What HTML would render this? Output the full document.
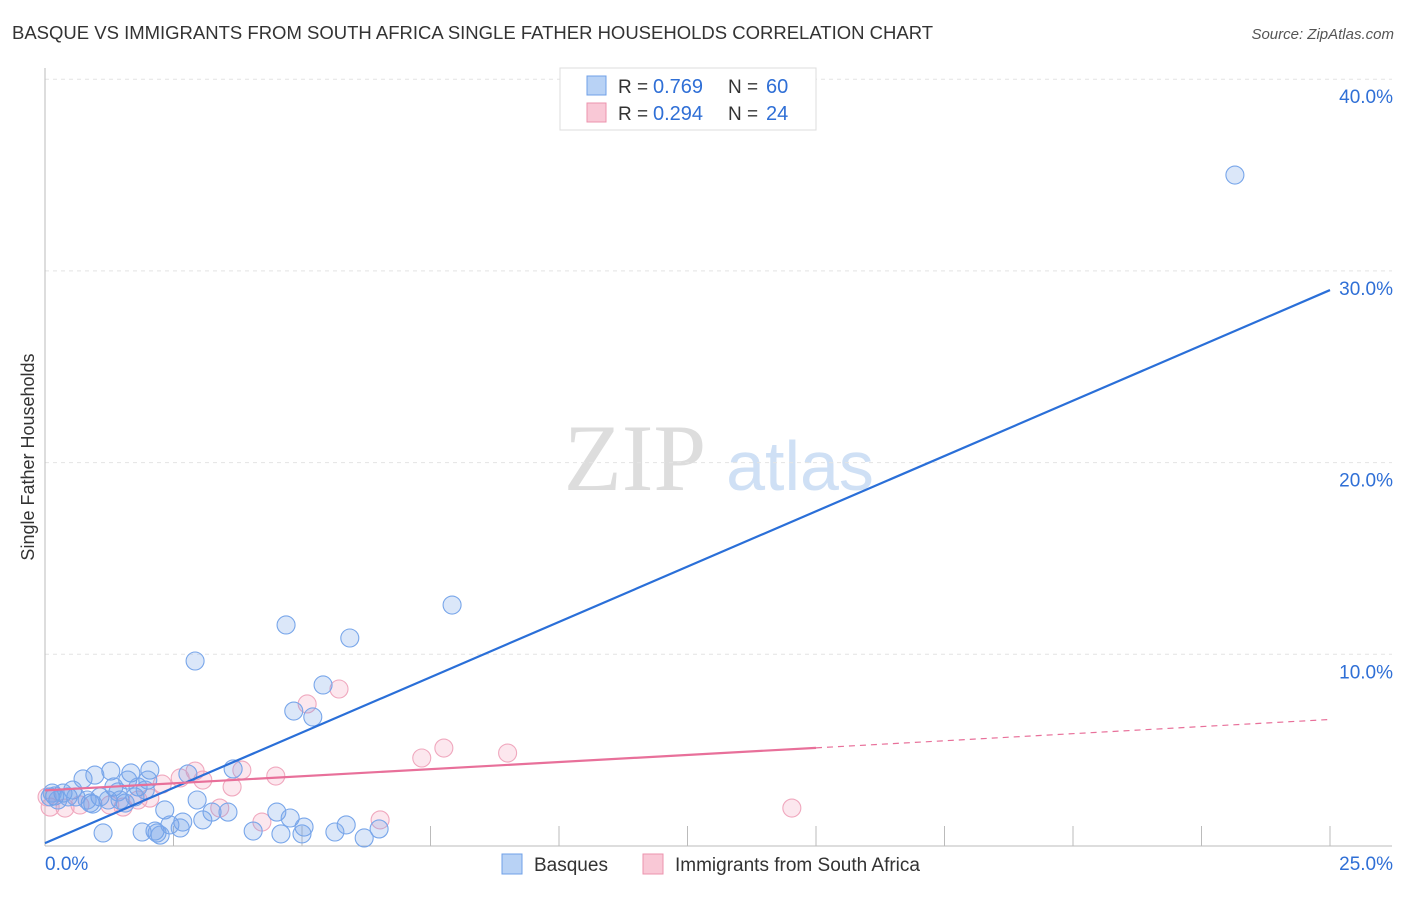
<!DOCTYPE html>
<html><head><meta charset="utf-8"><style>
body{margin:0;background:#fff;font-family:"Liberation Sans",sans-serif;}
</style></head><body>
<svg width="1406" height="892" xmlns="http://www.w3.org/2000/svg" style="font-family:'Liberation Sans',sans-serif">
<text x="12" y="39" font-size="18.5" fill="#333">BASQUE VS IMMIGRANTS FROM SOUTH AFRICA SINGLE FATHER HOUSEHOLDS CORRELATION CHART</text>
<text x="1394" y="39" font-size="15" fill="#555" font-style="italic" text-anchor="end">Source: ZipAtlas.com</text>
<text x="635" y="490" font-size="95" fill="#ddd" text-anchor="middle" font-family="Liberation Serif">ZIP</text>
<text x="800" y="490" font-size="70" fill="#cfe0f5" text-anchor="middle">atlas</text>
<g id="grid"></g><g id="pts"></g><g id="lines"></g>
<text transform="translate(34,457) rotate(-90)" font-size="18" fill="#333" text-anchor="middle">Single Father Households</text>
<g>
<rect x="560" y="68" width="256" height="62" fill="#fff" stroke="#ddd"/>
<rect x="587" y="76" width="19" height="19" fill="#b8d2f5" stroke="#6fa0e8"/>
<rect x="587" y="103" width="19" height="19" fill="#f9c8d6" stroke="#ec93ae"/>
<text x="618" y="93" font-size="19" fill="#333">R =</text>
<text x="653" y="93" font-size="20" fill="#2f6fd6">0.769</text>
<text x="728" y="93" font-size="19" fill="#333">N =</text>
<text x="766" y="93" font-size="20" fill="#2f6fd6">60</text>
<text x="618" y="120" font-size="19" fill="#333">R =</text>
<text x="653" y="120" font-size="20" fill="#2f6fd6">0.294</text>
<text x="728" y="120" font-size="19" fill="#333">N =</text>
<text x="766" y="120" font-size="20" fill="#2f6fd6">24</text>
</g>
<g>
<rect x="502" y="854" width="20" height="20" fill="#b8d2f5" stroke="#6fa0e8"/>
<text x="534" y="871" font-size="19" fill="#333">Basques</text>
<rect x="643" y="854" width="20" height="20" fill="#f9c8d6" stroke="#ec93ae"/>
<text x="675" y="871" font-size="19" fill="#333">Immigrants from South Africa</text>
</g>
</svg>
<script>
const xTicks=[0,2.5,5,7.5,10,12.5,15,17.5,20,22.5,25];
const yTicks=[10,20,30,40];
const yTickLabels=["10.0%","20.0%","30.0%","40.0%"];
const basquesX=[23.15,7.92,4.69,5.93,2.92,5.41,4.84,5.21,3.66,2.78,2.04,1.67,1.28,0.97,0.74,1.61,2.0,1.81,1.34,0.54,0.35,0.19,0.1,0.45,1.07,1.46,1.75,0.88,1.23,2.96,2.33,3.25,3.56,4.51,4.77,3.07,2.68,2.43,2.63,5.04,5.86,2.14,2.18,1.89,2.24,1.13,4.05,4.59,5.0,5.64,6.5,6.21,0.25,0.6,0.93,1.56,1.95,1.42,0.82,0.14];
const basquesY=[35.0,12.57,11.53,10.85,9.65,8.4,7.04,6.73,4.02,3.76,3.96,3.81,3.91,3.7,3.5,3.44,3.44,3.08,3.08,2.92,2.76,2.61,2.56,2.56,2.56,2.4,2.56,2.24,2.4,2.4,1.88,1.77,1.77,1.77,1.46,1.36,1.25,1.1,0.94,0.99,1.1,0.78,0.68,0.73,0.57,0.68,0.78,0.63,0.63,0.73,0.89,0.42,2.4,2.56,2.19,2.24,2.92,2.82,2.4,2.76];
const immX=[5.72,5.1,7.76,7.33,9.0,2.92,3.83,4.49,2.63,3.07,2.28,3.64,2.04,1.81,1.26,0.68,0.39,0.1,0.04,3.4,4.22,6.52,14.53,1.52];
const immY=[8.19,7.41,5.11,4.59,4.85,3.91,3.96,3.65,3.55,3.44,3.23,3.08,2.5,2.4,2.14,2.14,1.98,2.03,2.56,1.98,1.25,1.36,1.98,2.03];
const blueLine=[0.15,29.0];
const pinkLine=[2.9,6.6];
const pinkSolidEnd=15;
const X=v=>45+v*51.4, Y=v=>846-v*19.17;
const NS="http://www.w3.org/2000/svg";
function mk(t,a,p){const e=document.createElementNS(NS,t);for(const k in a)e.setAttribute(k,a[k]);p.appendChild(e);return e;}
const g=document.getElementById('grid'),pts=document.getElementById('pts'),ln=document.getElementById('lines');
yTicks.forEach((t,i)=>{
 const l=mk('line',{x1:45,x2:1392,y1:Y(t),y2:Y(t),stroke:'#e4e4e4','stroke-dasharray':'4,4'},g);
 
 
 const tx=mk('text',{x:1393,y:Y(t)+24,'font-size':19,fill:'#2f6fd6','text-anchor':'end'},g);tx.textContent=yTickLabels[i];
 
 
});
const ax=mk('line',{x1:45,x2:45,y1:68,y2:846,stroke:'#bbb'},g);


const bx=mk('line',{x1:45,x2:1392,y1:846,y2:846,stroke:'#bbb'},g);


xTicks.forEach(t=>{const l=mk('line',{x1:X(t),x2:X(t),y1:826,y2:846,stroke:'#bbb'},g);
 
 });
const t0=mk('text',{x:45,y:870,'font-size':19,fill:'#2f6fd6'},g);t0.textContent='0.0%';


const t1=mk('text',{x:1393,y:870,'font-size':19,fill:'#2f6fd6','text-anchor':'end'},g);t1.textContent='25.0%';


immX.forEach((x,i)=>{const c=mk('circle',{cx:X(x),cy:Y(immY[i]),r:9,fill:'rgba(244,160,188,0.25)',stroke:'#f0a8be','stroke-width':1.1},pts);
 
 });
basquesX.forEach((x,i)=>{const c=mk('circle',{cx:X(x),cy:Y(basquesY[i]),r:9,fill:'rgba(110,160,232,0.25)',stroke:'#78a6ea','stroke-width':1.1},pts);
 
 });
const b=mk('line',{x1:X(0),y1:Y(blueLine[0]),x2:X(25),y2:Y(blueLine[1]),stroke:'#2a6fd8','stroke-width':2.2},ln);


const pm=pinkLine[0]+(pinkLine[1]-pinkLine[0])*pinkSolidEnd/25;
const p1=mk('line',{x1:X(0),y1:Y(pinkLine[0]),x2:X(pinkSolidEnd),y2:Y(pm),stroke:'#e8709a','stroke-width':2.2},ln);


const p2=mk('line',{x1:X(pinkSolidEnd),y1:Y(pm),x2:X(25),y2:Y(pinkLine[1]),stroke:'#e8709a','stroke-width':1.2,'stroke-dasharray':'6,5'},ln);


</script>
</body></html>
